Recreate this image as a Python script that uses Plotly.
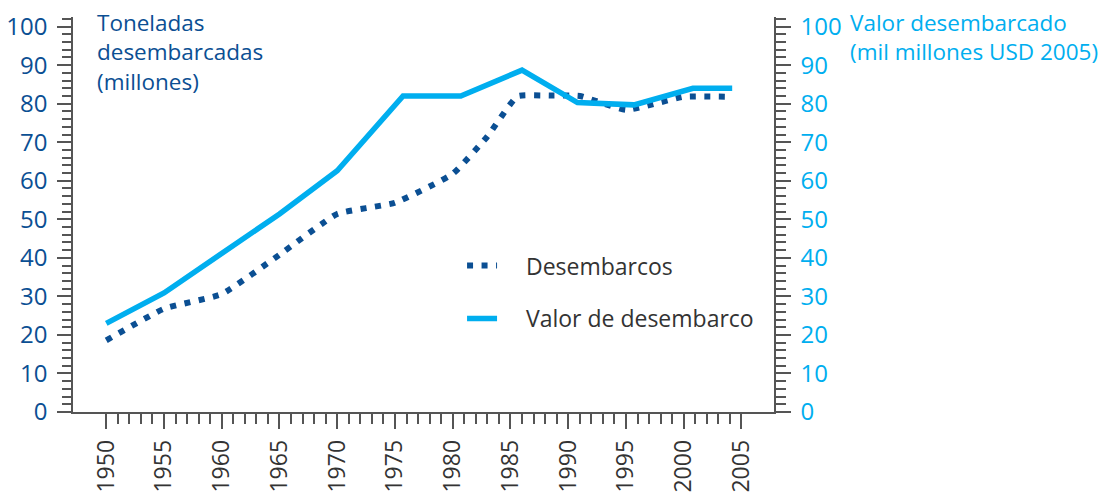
import plotly.graph_objects as go

# Desembarcos (million tonnes)
land_years = [1950, 1955, 1960, 1965, 1970, 1975, 1980, 1983, 1985.6, 1988.4, 1991, 1995, 2000, 2004.2]
land_vals = [18.6, 26.8, 30.6, 40.8, 51.4, 54.3, 61.8, 71.5, 81.9, 82.1, 82.0, 78.4, 81.8, 81.8]

# Valor de desembarco (billion USD 2005)
value_years = [1950, 1955, 1965, 1970, 1975.7, 1980.7, 1986.0, 1990.8, 1995.7, 2000.8, 2004.2]
value_vals = [23.0, 30.9, 51.4, 62.6, 82.0, 82.0, 88.7, 80.3, 79.7, 84.0, 84.0]

x_major = list(range(1950, 2006, 5))
x_minor = [y for y in range(1950, 2006) if y % 5 != 0]

left_title = ["Toneladas", "desembarcadas", "(millones)"]
right_title = ["Valor desembarcado", "(mil millones USD 2005)"]

DARK = "#0b4f93"
CYAN = "#00aeef"
AXC = "#555555"
FONT = "Open Sans"
NB = "\u00a0"

fig = go.Figure()
fig.add_trace(go.Scatter(
    x=land_years, y=land_vals, mode="lines", name=NB * 4 + "Desembarcos",
    line=dict(color=DARK, width=6, dash="6px,8.5px", shape="spline", smoothing=0.4),
    legendgroup="a",
))
fig.add_trace(go.Scatter(
    x=value_years, y=value_vals, mode="lines", name=NB * 4 + "Valor de desembarco",
    line=dict(color=CYAN, width=5.5), yaxis="y2", legendgroup="b",
))

fig.update_layout(
    width=1120, height=493,
    margin=dict(l=73, r=346, t=17, b=81, autoexpand=False),
    paper_bgcolor="white", plot_bgcolor="white",
    font=dict(family=FONT, size=22, color="#333333"),
    xaxis=dict(
        range=[1947.12, 2007.82], showgrid=False, zeroline=False, automargin=False,
        showline=True, linecolor=AXC, linewidth=1.5,
        tickmode="array", tickvals=x_major, ticktext=[str(v) for v in x_major],
        ticks="outside", ticklen=15, tickwidth=1.5, tickcolor=AXC,
        tickangle=-90, tickfont=dict(size=23, color="#333333"),
        ticklabelstandoff=2,
        minor=dict(tickmode="array", tickvals=x_minor, ticks="outside",
                   ticklen=10, tickwidth=1.5, tickcolor=AXC, showgrid=False),
    ),
    yaxis=dict(
        range=[0, 102.5], showgrid=False, zeroline=False, automargin=False,
        showline=True, linecolor=AXC, linewidth=1.5,
        tickmode="linear", tick0=0, dtick=10,
        ticks="outside", ticklen=14, tickwidth=1.5, tickcolor=AXC,
        tickfont=dict(size=24, color=DARK), ticklabelstandoff=5,
        minor=dict(dtick=2, ticks="outside", ticklen=9, tickwidth=1.5,
                   tickcolor=AXC, showgrid=False),
    ),
    yaxis2=dict(
        range=[0, 102.5], overlaying="y", side="right", automargin=False,
        showgrid=False, zeroline=False,
        showline=True, linecolor=AXC, linewidth=1.5,
        tickmode="linear", tick0=0, dtick=10,
        ticks="outside", ticklen=15, tickwidth=1.5, tickcolor=AXC,
        tickfont=dict(size=24, color=CYAN), ticklabelstandoff=5,
        minor=dict(dtick=2, ticks="outside", ticklen=10, tickwidth=1.5,
                   tickcolor=AXC, showgrid=False),
    ),
    legend=dict(
        x=0.555, y=0.425, xanchor="left", yanchor="top",
        bgcolor="rgba(0,0,0,0)", font=dict(size=23, color="#333333"),
        traceorder="grouped", tracegroupgap=20,
    ),
    showlegend=True,
)

fig.add_annotation(
    xref="paper", yref="paper", x=0.031, y=1.03, xanchor="left", yanchor="top",
    text="<br>".join(left_title), showarrow=False, align="left",
    font=dict(size=22.5, color=DARK, family=FONT),
)
fig.add_annotation(
    xref="paper", yref="paper", x=1.106, y=1.03, xanchor="left", yanchor="top",
    text="<br>".join(right_title), showarrow=False, align="left",
    font=dict(size=22.5, color=CYAN, family=FONT),
)

fig.write_html(
    "out.html",
    config={"displayModeBar": False},
    post_script="document.body.style.margin='0';document.body.style.padding='0';",
)
